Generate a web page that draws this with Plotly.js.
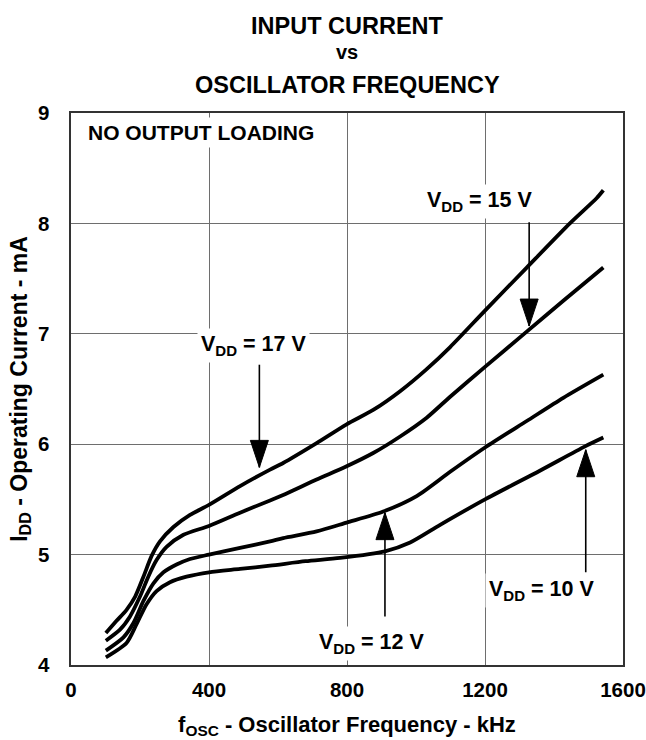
<!DOCTYPE html>
<html>
<head>
<meta charset="utf-8">
<script src="https://cdn.plot.ly/plotly-3.0.1.min.js"></script>
<style>
  html, body { margin: 0; padding: 0; background: #fff; }
  #chart { width: 646px; height: 740px; }
</style>
</head>
<body>
<div id="chart"></div>
<script>
// ---- data ----
const v17x = [101,132,161,186,210,234,258,297,345,400,490,577,615,712,799,876,954,1031,1099,1200,1321,1446,1524,1543];
const v17y = [4.29,4.40,4.50,4.62,4.80,4.99,5.12,5.25,5.36,5.45,5.62,5.77,5.83,6.01,6.18,6.31,6.48,6.68,6.88,7.21,7.60,8.00,8.23,8.30];

const v15x = [101,142,171,200,224,248,277,326,400,490,577,615,712,799,876,954,1031,1099,1200,1321,1427,1543];
const v15y = [4.22,4.32,4.44,4.62,4.80,4.95,5.07,5.18,5.26,5.38,5.49,5.54,5.68,5.80,5.92,6.07,6.24,6.43,6.70,7.02,7.30,7.60];

const v12x = [101,152,181,210,239,268,306,345,400,490,577,615,712,799,905,1002,1099,1200,1321,1427,1543];
const v12y = [4.13,4.25,4.38,4.58,4.74,4.84,4.91,4.96,5.00,5.06,5.12,5.15,5.21,5.29,5.39,5.53,5.75,5.97,6.21,6.42,6.63];

const v10x = [101,161,190,219,248,287,335,400,490,577,680,780,910,983,1070,1200,1359,1490,1543];
const v10y = [4.07,4.20,4.37,4.55,4.67,4.75,4.80,4.84,4.87,4.90,4.94,4.97,5.03,5.11,5.27,5.50,5.76,5.98,6.06];

const xTicks = [0, 400, 800, 1200, 1600];
const yTicks = [4, 5, 6, 7, 8, 9];

// curve labels and their arrows
const labelText = ['V<sub>DD</sub> = 17 V', 'V<sub>DD</sub> = 15 V', 'V<sub>DD</sub> = 12 V', 'V<sub>DD</sub> = 10 V'];
const labelX    = [529, 1183, 872, 1364];
const labelY    = [6.89, 8.20, 4.195, 4.675];
const arrowX    = [546, 1328, 910, 1492];
const arrowTail = [6.72, 8.01, 4.44, 4.84];
const arrowTip  = [5.79, 7.07, 5.38, 5.95];

const noteText = 'NO OUTPUT LOADING';
const titleLines = ['INPUT CURRENT', 'vs', 'OSCILLATOR FREQUENCY'];

// ---- build ----
const FONT = 'Liberation Sans, Arial, Helvetica, sans-serif';
const series = [[v17x, v17y], [v15x, v15y], [v12x, v12y], [v10x, v10y]];
const traces = series.map(s => ({
  x: s[0], y: s[1], type: 'scatter', mode: 'lines',
  line: { color: '#000', width: 3.8, shape: 'spline', smoothing: 0.7 },
  hoverinfo: 'skip', showlegend: false
}));

const annotations = [];
titleLines.forEach((t, i) => {
  annotations.push({
    xref: 'paper', yref: 'paper', x: 0.5, y: [1.158, 1.110, 1.050][i],
    xanchor: 'center', yanchor: 'middle', showarrow: false, text: t,
    font: { family: FONT, size: i === 1 ? 20 : 23.5, color: '#000', weight: 'bold' }
  });
});
annotations.push({
  xref: 'x', yref: 'y', x: 377, y: 8.82, xanchor: 'center', yanchor: 'middle',
  showarrow: false, text: noteText, bgcolor: '#fff', borderpad: 3,
  font: { family: FONT, size: 21, color: '#000', weight: 'bold' }
});
labelText.forEach((t, i) => {
  annotations.push({
    xref: 'x', yref: 'y', x: labelX[i], y: labelY[i], xanchor: 'center', yanchor: 'middle',
    showarrow: false, text: t, bgcolor: '#fff', borderpad: 3,
    font: { family: FONT, size: 21.5, color: '#000', weight: 'bold' }
  });
});

const shapes = [];
arrowX.forEach((ax, i) => {
  const down = arrowTip[i] < arrowTail[i];
  shapes.push({
    type: 'line', xref: 'x', yref: 'y', x0: ax, x1: ax, y0: arrowTail[i], y1: arrowTip[i],
    line: { color: '#000', width: 1.6 }
  });
  shapes.push({
    type: 'path', xref: 'x', yref: 'y', xsizemode: 'pixel', ysizemode: 'pixel',
    xanchor: ax, yanchor: arrowTip[i],
    path: down ? 'M -9,27 L 9,27 L 0,0 Z' : 'M -9,-27 L 9,-27 L 0,0 Z',
    fillcolor: '#000', line: { color: '#000', width: 1 }
  });
});

const axisCommon = {
  showgrid: true, gridcolor: '#6e6e6e', gridwidth: 1,
  showline: true, linecolor: '#333', linewidth: 1.6, mirror: true,
  zeroline: false, ticks: '', fixedrange: true, ticklabeloverflow: 'allow',
  tickfont: { family: FONT, size: 20.5, color: '#000', weight: 'bold' }
};

const layout = {
  width: 646, height: 740,
  margin: { l: 71, r: 23, t: 113, b: 75, pad: 0 },
  paper_bgcolor: '#fff', plot_bgcolor: '#fff',
  font: { family: FONT, color: '#000' },
  xaxis: Object.assign({}, axisCommon, {
    range: [0, 1600], tickvals: xTicks, ticktext: xTicks.map(String),
    ticklabelstandoff: 6,
    title: { text: 'f<sub>OSC</sub> - Oscillator Frequency - kHz', standoff: 16,
             font: { family: FONT, size: 22, color: '#000', weight: 'bold' } }
  }),
  yaxis: Object.assign({}, axisCommon, {
    range: [4, 9], tickvals: yTicks, ticktext: yTicks.map(String),
    ticklabelstandoff: 16,
    title: { text: 'I<sub>DD</sub> - Operating Current - mA', standoff: 4,
             font: { family: FONT, size: 23, color: '#000', weight: 'bold' } }
  }),
  annotations: annotations,
  shapes: shapes
};

Plotly.newPlot('chart', traces, layout, { staticPlot: true, displayModeBar: false });
</script>
</body>
</html>
